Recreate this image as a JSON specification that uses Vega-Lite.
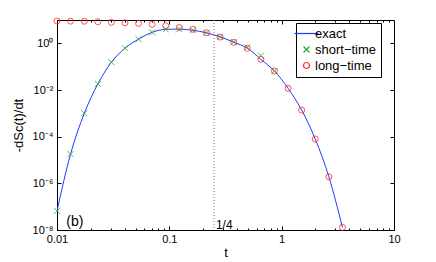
{
  "$schema": "https://vega.github.io/schema/vega-lite/v6.json",
  "width": 337,
  "height": 210,
  "autosize": {"type": "none"},
  "padding": {"left": 57, "top": 20, "right": 42, "bottom": 32},
  "background": "white",
  "config": {
    "view": {"stroke": "black", "strokeWidth": 1},
    "font": "Liberation Sans",
    "axis": {
      "grid": false,
      "domainColor": "black",
      "tickColor": "black",
      "labelColor": "black",
      "titleColor": "black",
      "labelFont": "Liberation Sans",
      "titleFont": "Liberation Sans",
      "labelFontSize": 11,
      "titleFontSize": 13,
      "titleFontWeight": "normal"
    }
  },
  "datasets": {
    "curves": [
      {"t": 0.0100, "v": 6.6e-8, "series": "exact"},
      {"t": 0.0132, "v": 1.78e-5, "series": "exact"},
      {"t": 0.0175, "v": 1.0e-3, "series": "exact"},
      {"t": 0.0231, "v": 0.0182, "series": "exact"},
      {"t": 0.0305, "v": 0.155, "series": "exact"},
      {"t": 0.0403, "v": 0.617, "series": "exact"},
      {"t": 0.0532, "v": 1.51, "series": "exact"},
      {"t": 0.0703, "v": 2.95, "series": "exact"},
      {"t": 0.0929, "v": 3.98, "series": "exact"},
      {"t": 0.1227, "v": 4.07, "series": "exact"},
      {"t": 0.1622, "v": 3.63, "series": "exact"},
      {"t": 0.2143, "v": 2.82, "series": "exact"},
      {"t": 0.2831, "v": 1.9, "series": "exact"},
      {"t": 0.3741, "v": 1.12, "series": "exact"},
      {"t": 0.4943, "v": 0.62, "series": "exact"},
      {"t": 0.6531, "v": 0.206, "series": "exact"},
      {"t": 0.8630, "v": 0.065, "series": "exact"},
      {"t": 1.140, "v": 0.0118, "series": "exact"},
      {"t": 1.507, "v": 1.38e-3, "series": "exact"},
      {"t": 1.991, "v": 7.9e-5, "series": "exact"},
      {"t": 2.630, "v": 1.92e-6, "series": "exact"},
      {"t": 3.475, "v": 1.3e-8, "series": "exact"},

      {"t": 0.0100, "v": 6.6e-8, "series": "short−time"},
      {"t": 0.0132, "v": 1.78e-5, "series": "short−time"},
      {"t": 0.0175, "v": 1.0e-3, "series": "short−time"},
      {"t": 0.0231, "v": 0.0182, "series": "short−time"},
      {"t": 0.0305, "v": 0.155, "series": "short−time"},
      {"t": 0.0403, "v": 0.617, "series": "short−time"},
      {"t": 0.0532, "v": 1.51, "series": "short−time"},
      {"t": 0.0703, "v": 2.95, "series": "short−time"},
      {"t": 0.0929, "v": 3.98, "series": "short−time"},
      {"t": 0.1227, "v": 4.07, "series": "short−time"},
      {"t": 0.1622, "v": 3.63, "series": "short−time"},
      {"t": 0.2143, "v": 2.82, "series": "short−time"},
      {"t": 0.2831, "v": 1.92, "series": "short−time"},
      {"t": 0.3741, "v": 1.14, "series": "short−time"},
      {"t": 0.4943, "v": 0.675, "series": "short−time"},
      {"t": 0.6531, "v": 0.294, "series": "short−time"},
      {"t": 0.8630, "v": 0.0652, "series": "short−time"},

      {"t": 0.0100, "v": 9.0, "series": "long−time"},
      {"t": 0.0132, "v": 8.9, "series": "long−time"},
      {"t": 0.0175, "v": 8.8, "series": "long−time"},
      {"t": 0.0231, "v": 8.4, "series": "long−time"},
      {"t": 0.0305, "v": 7.9, "series": "long−time"},
      {"t": 0.0403, "v": 7.6, "series": "long−time"},
      {"t": 0.0532, "v": 7.2, "series": "long−time"},
      {"t": 0.0703, "v": 6.5, "series": "long−time"},
      {"t": 0.0929, "v": 5.7, "series": "long−time"},
      {"t": 0.1227, "v": 4.8, "series": "long−time"},
      {"t": 0.1622, "v": 4.0, "series": "long−time"},
      {"t": 0.2143, "v": 2.85, "series": "long−time"},
      {"t": 0.2831, "v": 1.85, "series": "long−time"},
      {"t": 0.3741, "v": 1.1, "series": "long−time"},
      {"t": 0.4943, "v": 0.61, "series": "long−time"},
      {"t": 0.6531, "v": 0.206, "series": "long−time"},
      {"t": 0.8630, "v": 0.065, "series": "long−time"},
      {"t": 1.140, "v": 0.0118, "series": "long−time"},
      {"t": 1.507, "v": 1.38e-3, "series": "long−time"},
      {"t": 1.991, "v": 7.9e-5, "series": "long−time"},
      {"t": 2.630, "v": 1.92e-6, "series": "long−time"},
      {"t": 3.475, "v": 1.3e-8, "series": "long−time"}
    ],
    "xticks": [
      {"t": 0.01}, {"t": 10}
    ],
    "notes": [
      {"label": "1/4", "t": 0.26, "v": 1e-8},
      {"label": "(b)", "t": 0.0121, "v": 1e-8}
    ],
    "marker": [
      {"t": 0.25}
    ]
  },
  "resolve": {"axis": {"x": "independent", "y": "independent"}},
  "layer": [
    {
      "layer": [
        {
          "data": {"name": "marker"},
          "mark": {"type": "rule", "color": "#777777", "strokeDash": [1, 2], "strokeWidth": 1},
          "encoding": {"x": {"field": "t", "type": "quantitative", "scale": {"type": "log", "domain": [0.01, 10], "nice": false}}}
        },
        {
          "data": {"name": "curves"},
          "transform": [{"filter": "datum.series === 'exact'"}],
          "mark": {"type": "line", "strokeWidth": 1, "interpolate": "monotone", "clip": true},
          "encoding": {
            "x": {
              "field": "t", "type": "quantitative",
              "scale": {"type": "log", "domain": [0.01, 10], "nice": false},
              "axis": {
                "title": "t",
                "titlePadding": 0,
                "values": [0.01,0.02,0.03,0.04,0.05,0.06,0.07,0.08,0.09,0.1,0.2,0.3,0.4,0.5,0.6,0.7,0.8,0.9,1,2,3,4,5,6,7,8,9,10],
                "labelExpr": "datum.value == 0.01 ? '0.01' : datum.value == 0.1 ? '0.1' : datum.value == 1 ? '1' : datum.value == 10 ? '10' : ''",
                "tickSize": {"condition": {"test": "datum.value == 0.01 || datum.value == 0.1 || datum.value == 1 || datum.value == 10", "value": -4}, "value": -2},
                "labelPadding": 7,
                "labelFlush": false,
                "labelOverlap": false
              }
            },
            "y": {
              "field": "v", "type": "quantitative",
              "scale": {"type": "log", "domain": [1e-8, 10], "nice": false},
              "axis": {
                "title": "-dSc(t)/dt",
                "titlePadding": 7,
                "values": [1e-8, 1e-6, 1e-4, 1e-2, 1],
                "labelExpr": "datum.value < 1e-7 ? '10⁻⁸' : datum.value < 1e-5 ? '10⁻⁶' : datum.value < 1e-3 ? '10⁻⁴' : datum.value < 0.1 ? '10⁻²' : '10⁰'",
                "tickSize": -4,
                "labelPadding": 8
              }
            },
            "color": {
              "field": "series", "type": "nominal",
              "scale": {"domain": ["exact", "short−time", "long−time"], "range": ["#1a3cff", "#2aa82a", "#ff2a2a"]},
              "legend": {
                "title": null,
                "orient": "none",
                "legendX": 239,
                "legendY": 3,
                "strokeColor": "black",
                "fillColor": "white",
                "padding": 4,
                "labelFont": "Liberation Sans",
                "labelFontSize": 13,
                "labelColor": "black",
                "rowPadding": 2,
                "labelOffset": 2,
                "cornerRadius": 0,
                "encode": {"symbols": {"update": {
                  "size": {"signal": "datum.value === 'exact' ? 576 : 36"},
                  "shape": {"signal": "datum.value === 'exact' ? 'stroke' : datum.value === 'short−time' ? 'M-1,-1L1,1M-1,1L1,-1' : 'circle'"},
                  "fill": {"value": "transparent"},
                  "strokeWidth": {"value": 1.2},
                  "opacity": {"value": 1}
                }}}
              }
            }
          }
        },
        {
          "data": {"name": "curves"},
          "transform": [{"filter": "datum.series !== 'exact'"}],
          "mark": {"type": "point", "filled": false, "size": 36, "strokeWidth": 0.8, "opacity": 1, "clip": false},
          "encoding": {
            "x": {"field": "t", "type": "quantitative"},
            "y": {"field": "v", "type": "quantitative"},
            "color": {"field": "series", "type": "nominal"},
            "shape": {
              "field": "series", "type": "nominal",
              "scale": {"domain": ["exact", "short−time", "long−time"], "range": ["stroke", "M-1,-1L1,1M-1,1L1,-1", "circle"]},
              "legend": null
            }
          }
        },
        {
          "data": {"name": "notes"},
          "transform": [{"filter": "datum.label === '1/4'"}],
          "mark": {"type": "text", "align": "left", "baseline": "alphabetic", "dy": -1, "fontSize": 12, "font": "Liberation Sans", "color": "black"},
          "encoding": {"x": {"field": "t", "type": "quantitative"}, "y": {"field": "v", "type": "quantitative"}, "text": {"field": "label"}}
        },
        {
          "data": {"name": "notes"},
          "transform": [{"filter": "datum.label === '(b)'"}],
          "mark": {"type": "text", "align": "left", "baseline": "alphabetic", "dy": -4, "fontSize": 14, "font": "Liberation Sans", "color": "black"},
          "encoding": {"x": {"field": "t", "type": "quantitative"}, "y": {"field": "v", "type": "quantitative"}, "text": {"field": "label"}}
        }
      ]
    },
    {
      "data": {"name": "xticks"},
      "mark": {"type": "point", "opacity": 0},
      "encoding": {
        "x": {
          "field": "t", "type": "quantitative",
          "axis": {
            "orient": "top", "title": null, "labels": false, "domain": false,
            "values": [0.01,0.02,0.03,0.04,0.05,0.06,0.07,0.08,0.09,0.1,0.2,0.3,0.4,0.5,0.6,0.7,0.8,0.9,1,2,3,4,5,6,7,8,9,10],
            "tickSize": {"condition": {"test": "datum.value == 0.01 || datum.value == 0.1 || datum.value == 1 || datum.value == 10", "value": -4}, "value": -2}
          }
        },
        "y": {
          "datum": 1,
          "type": "quantitative",
          "axis": {"orient": "right", "title": null, "labels": false, "domain": false, "values": [1e-8, 1e-6, 1e-4, 1e-2, 1], "tickSize": -4}
        }
      }
    }
  ]
}
